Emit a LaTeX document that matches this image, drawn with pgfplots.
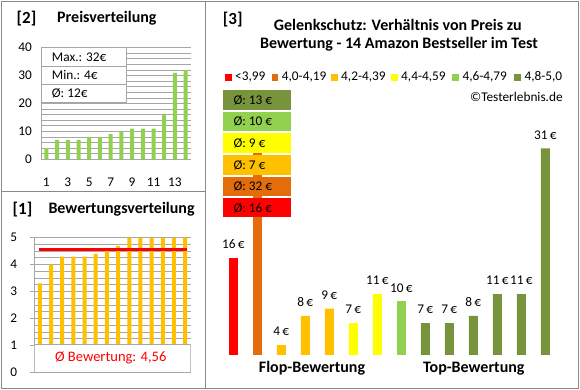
\documentclass[border=0pt]{standalone}
\usepackage{pgfplots}
\pgfplotsset{compat=1.18}
\usepackage{fontspec}
\setmainfont{Carlito}
\definecolor{cgreen}{HTML}{92D050}
\definecolor{corange}{HTML}{FFC000}
\definecolor{cdorange}{HTML}{E46C0A}
\definecolor{cred}{HTML}{FF0000}
\definecolor{cyellow}{HTML}{FFFF00}
\definecolor{colive}{HTML}{77933C}
\definecolor{gridc}{HTML}{A6A6A6}
\definecolor{framec}{HTML}{898989}
\newcommand{\fs}[1]{\fontsize{#1}{#1}\selectfont}
\begin{document}
\begin{tikzpicture}[x=1pt,y=1pt]
\fill[white] (0,0) rectangle (580,390);
\draw[framec, line width=1pt] (1.5,1.5) rectangle (578.5,388.5);
\draw[framec, line width=1pt] (205.3,1.5) -- (205.3,388.5);
\draw[framec, line width=1pt] (1.5,198.7) -- (205.3,198.7);

% ---------- Panel [2] Preisverteilung ----------
\node[anchor=base west, inner sep=0pt, font=\fs{17}\bfseries] at (16.5,366.5) {[2]};
\node[anchor=base west, inner sep=0pt, font=\fs{16}\bfseries] at (57,367.3) {Preisverteilung};
\begin{axis}[at={(41pt,230.7pt)}, anchor=south west, scale only axis,
  width=150pt, height=111.6pt,
  xmin=0.5, xmax=14.5, ymin=0, ymax=40,
  axis x line*=bottom, axis y line*=left, axis line style={gridc, -, line width=0.8pt},
  ytick={0,10,20,30,40}, minor ytick={2,4,6,8,12,14,16,18,22,24,26,28,32,34,36,38},
  ymajorgrids, yminorgrids,
  grid style={gridc, line width=0.8pt}, minor grid style={gridc, line width=0.8pt},
  xtick={1,3,5,7,9,11,13}, major tick length=0pt, minor tick length=0pt,
  tick label style={font=\fs{13.3}},
  xticklabel style={anchor=center, yshift=-22.7pt},
  yticklabel style={anchor=east, inner sep=0pt, xshift=-9pt},
  /pgf/number format/assume math mode=true,
]
\addplot[ybar, bar width=4pt, bar shift=0pt, fill=cgreen, draw=none]
  coordinates {(1,4)(2,7)(3,7)(4,7)(5,8)(6,8)(7,9)(8,10)(9,11)(10,11)(11,11)(12,16)(13,31)(14,32)};
\end{axis}
\draw[gridc, fill=white, line width=0.8pt] (41.7,287.3) rectangle (126,342.3);
\draw[gridc, line width=0.8pt] (41.7,324) -- (126,324) (41.7,306) -- (126,306);
\node[anchor=base west, inner sep=0pt, font=\fs{13.3}] at (51.7,328.8) {Max.: 32€};
\node[anchor=base west, inner sep=0pt, font=\fs{13.3}] at (51.7,310.5) {Min.: 4€};
\node[anchor=base west, inner sep=0pt, font=\fs{13.3}] at (51.7,292.3) {Ø: 12€};

% ---------- Panel [1] Bewertungsverteilung ----------
\node[anchor=base west, inner sep=0pt, font=\fs{17}\bfseries] at (12.5,175.8) {[1]};
\node[anchor=base west, inner sep=0pt, font=\fs{16}\bfseries] at (48.3,176.7) {Bewertungsverteilung};
\begin{axis}[at={(34.3pt,17.7pt)}, anchor=south west, scale only axis,
  width=156.4pt, height=134.6pt,
  xmin=0.5, xmax=14.5, ymin=0, ymax=5,
  axis x line*=bottom, axis y line*=left, axis line style={gridc, -, line width=0.8pt},
  ytick={0,1,2,3,4,5},
  minor ytick={0.25,0.5,0.75,1.25,1.5,1.75,2.25,2.5,2.75,3.25,3.5,3.75,4.25,4.5,4.75},
  ymajorgrids, yminorgrids,
  grid style={gridc, line width=0.8pt}, minor grid style={gridc, line width=0.8pt},
  xtick=\empty, major tick length=4pt, minor tick length=0pt, tick align=outside,
  ytick style={gridc, line width=0.8pt},
  tick label style={font=\fs{13.3}},
  yticklabel style={anchor=east, inner sep=0pt, xshift=-13pt},
  /pgf/number format/assume math mode=true,
]
\addplot[ybar, bar width=4pt, bar shift=0pt, fill=corange, draw=none]
  coordinates {(1,3.3)(2,4.0)(3,4.3)(4,4.3)(5,4.3)(6,4.4)(7,4.5)(8,4.7)(9,5)(10,5)(11,5)(12,5)(13,5)(14,5)};
\addplot[cred, line width=3pt] coordinates {(0.95,4.56)(14.14,4.56)};
\draw[gridc, fill=white, line width=0.8pt] (axis cs:0.5,0) rectangle (axis cs:14.5,1.03);
\node[cred, font=\fs{14.5}] at (axis cs:7.34,0.52) {Ø Bewertung: 4,56};
\end{axis}

% ---------- Panel [3] ----------
\node[anchor=base west, inner sep=0pt, font=\fs{17}\bfseries] at (222.7,365.5) {[3]};
\node[anchor=base, inner sep=0pt, font=\fs{16}\bfseries] at (397.8,359.7) {Gelenkschutz: Verhältnis von Preis zu};
\node[anchor=base, inner sep=0pt, font=\fs{16}\bfseries] at (399,341.3) {Bewertung - 14 Amazon Bestseller im Test};

% legend
\fill[cred] (225,309.3) rectangle +(6.7,6.7);
\node[anchor=base west, inner sep=0pt, font=\fs{13.3}] at (235,309) {<3,99};
\fill[cdorange] (271.7,309.3) rectangle +(6.7,6.7);
\node[anchor=base west, inner sep=0pt, font=\fs{13.3}] at (281.7,309) {4,0-4,19};
\fill[corange] (331,309.3) rectangle +(6.7,6.7);
\node[anchor=base west, inner sep=0pt, font=\fs{13.3}] at (341,309) {4,2-4,39};
\fill[cyellow] (391,309.3) rectangle +(6.7,6.7);
\node[anchor=base west, inner sep=0pt, font=\fs{13.3}] at (401,309) {4,4-4,59};
\fill[cgreen] (452.3,309.3) rectangle +(6.7,6.7);
\node[anchor=base west, inner sep=0pt, font=\fs{13.3}] at (462.3,309) {4,6-4,79};
\fill[colive] (514.3,309.3) rectangle +(6.7,6.7);
\node[anchor=base west, inner sep=0pt, font=\fs{13.3}] at (524.3,309) {4,8-5,0};
\node[anchor=base west, inner sep=0pt, font=\fs{13.3}] at (470,288.3) {©Testerlebnis.de};

\begin{axis}[at={(221.3pt,35pt)}, anchor=south west, scale only axis,
  width=336pt, height=272.2pt,
  xmin=0.5, xmax=14.5, ymin=2.63, ymax=40, hide axis, clip=false,
  /pgf/number format/assume math mode=true,
  nodes near coords={\pgfmathprintnumber{\pgfplotspointmeta}\,€},
  every node near coord/.append style={font=\fs{13.3}, anchor=south, inner sep=0pt, yshift=9pt},
]
\addplot[ybar, bar width=9pt, bar shift=0pt, fill=cred, draw=none] coordinates {(1,16)};
\addplot[ybar, bar width=9pt, bar shift=0pt, fill=cdorange, draw=none] coordinates {(2,32)};
\addplot[ybar, bar width=9pt, bar shift=0pt, fill=corange, draw=none] coordinates {(3,4)(4,8)(5,9)};
\addplot[ybar, bar width=9pt, bar shift=0pt, fill=cyellow, draw=none] coordinates {(6,7)(7,11)};
\addplot[ybar, bar width=9pt, bar shift=0pt, fill=cgreen, draw=none] coordinates {(8,10)};
\addplot[ybar, bar width=9pt, bar shift=0pt, fill=colive, draw=none] coordinates {(9,7)(10,7)(11,8)(12,11)(13,11)(14,31)};
\end{axis}

% average boxes
\fill[colive] (223.3,280) rectangle (290.7,300);
\node[anchor=base west, inner sep=0pt, font=\fs{13.3}] at (233.3,285.3) {Ø: 13 €};
\fill[cgreen] (223.3,259.3) rectangle (290.7,278.3);
\node[anchor=base west, inner sep=0pt, font=\fs{13.3}] at (233.3,264.3) {Ø: 10 €};
\fill[cyellow] (223.3,237.3) rectangle (290.7,256.7);
\node[anchor=base west, inner sep=0pt, font=\fs{13.3}] at (233.3,242.5) {Ø: 9 €};
\fill[corange] (223.3,214.7) rectangle (290.7,234.7);
\node[anchor=base west, inner sep=0pt, font=\fs{13.3}] at (233.3,220) {Ø: 7 €};
\fill[cdorange] (223.3,194) rectangle (290.7,213);
\node[anchor=base west, inner sep=0pt, font=\fs{13.3}] at (233.3,199) {Ø: 32 €};
\fill[cred] (223.3,172.7) rectangle (290.7,192);
\node[anchor=base west, inner sep=0pt, font=\fs{13.3}] at (233.3,177.7) {Ø: 16 €};

\node[anchor=base, inner sep=0pt, font=\fs{16}\bfseries] at (312,17.3) {Flop-Bewertung};
\node[anchor=base, inner sep=0pt, font=\fs{16}\bfseries] at (473.8,17.3) {Top-Bewertung};
\end{tikzpicture}
\end{document}
